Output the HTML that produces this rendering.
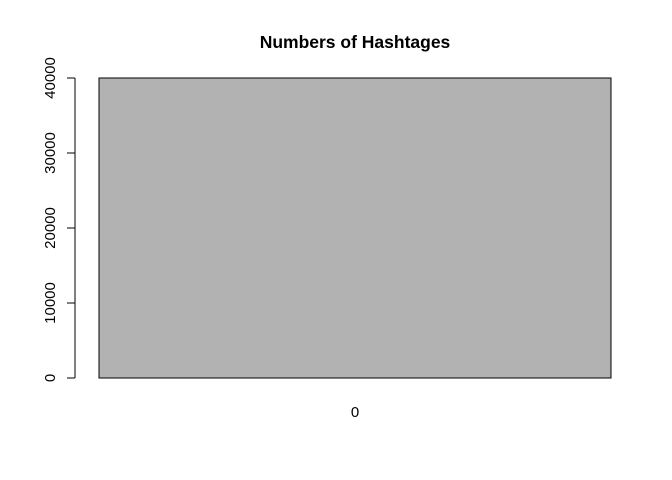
<!DOCTYPE html>
<html><head><meta charset="utf-8"><style>
body{margin:0;background:#fff}
svg{display:block;font-family:"Liberation Sans",Arial,sans-serif}
</style></head><body>
<svg id="c" width="672" height="480"></svg>
<script>
const categories=["0"];
const values=[40000];
const yTicks=[0,10000,20000,30000,40000];
const ns="http://www.w3.org/2000/svg";
const svg=document.getElementById('c');
const y0=378,y1=78,yMax=40000;
function y(v){return y0-(v/yMax)*(y0-y1);}
const xL=99,xR=611;
function mk(t,a,txt){const e=document.createElementNS(ns,t);for(const k in a)e.setAttribute(k,a[k]);if(txt!==undefined)e.textContent=txt;svg.appendChild(e);return e;}
const title=mk('text',{x:355,y:48,'text-anchor':'middle','font-size':'17.5','font-weight':'bold'},'Numbers of Hashtages');


const bw=(xR-xL)/categories.length;
categories.forEach((c,i)=>{
  const r=mk('rect',{x:xL+i*bw,y:y(values[i]),width:bw,height:y0-y(values[i]),fill:'#b2b2b2',stroke:'#000','stroke-width':1});
  
  
  const t=mk('text',{x:xL+i*bw+bw/2,y:417,'text-anchor':'middle','font-size':'15'},c);
  
  
});
const ax=mk('line',{x1:75,x2:75,y1:y(yTicks[0]),y2:y(yTicks[yTicks.length-1]),stroke:'#000'});


yTicks.forEach(v=>{
  const l=mk('line',{x1:67,x2:75,y1:y(v),y2:y(v),stroke:'#000'});
  
  
  const t=mk('text',{x:55,y:y(v),'text-anchor':'middle','font-size':'15',transform:`rotate(-90 55 ${y(v)})`},String(v));
  
  
});
</script>
</body></html>
